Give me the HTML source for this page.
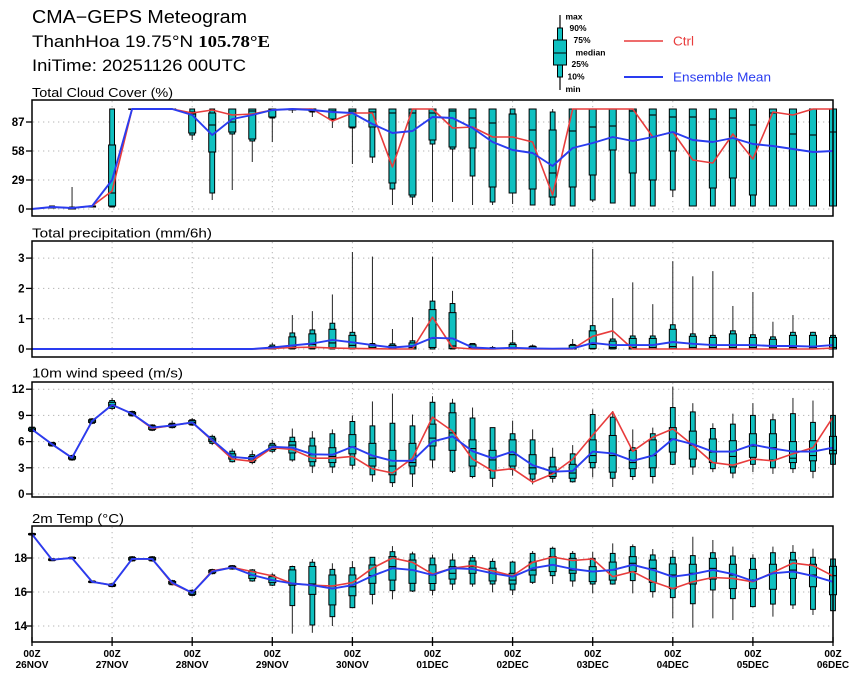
<!DOCTYPE html>
<html><head><meta charset="utf-8">
<style>
html,body{margin:0;padding:0;background:#fff;}
svg{display:block;}
text{font-family:"Liberation Sans",Arial,sans-serif;}
.tk{font-size:11.5px;font-weight:bold;text-anchor:end;fill:#000;}
.pt{font-size:12.5px;fill:#000;}
.xl{font-size:10px;font-weight:bold;text-anchor:middle;fill:#000;}
.lg{font-size:8.5px;font-weight:bold;fill:#000;}
</style></head><body>
<svg id="c" width="860" height="680" viewBox="0 0 860 680" xmlns="http://www.w3.org/2000/svg">
<g id="grid"></g>
<g id="data"></g>
<g id="frames" fill="none" stroke="#000" stroke-width="1.5">
<rect x="32" y="100" width="801" height="116"/>
<rect x="32" y="241" width="801" height="116"/>
<rect x="32" y="382" width="801" height="115"/>
<rect x="32" y="526" width="801" height="116"/>
</g>
<g id="ticks" stroke="#000" stroke-width="1.3"></g>

<!-- Titles -->
<text x="32" y="23" font-size="18" textLength="215" lengthAdjust="spacingAndGlyphs">CMA−GEPS Meteogram</text>
<text x="32" y="47" font-size="16.5" textLength="238" lengthAdjust="spacingAndGlyphs">ThanhHoa 19.75°N <tspan font-family="Liberation Serif" font-weight="bold">105.78°E</tspan></text>
<text x="32" y="71" font-size="16.5" textLength="214" lengthAdjust="spacingAndGlyphs">IniTime: 20251126 00UTC</text>

<!-- Legend -->
<line x1="560" y1="15" x2="560" y2="90" stroke="#000" stroke-width="1.2"/>
<rect x="557.5" y="28" width="5" height="49" fill="#10c0c0" stroke="#000" stroke-width="1"/>
<rect x="553.5" y="40" width="13" height="25" fill="#10c0c0" stroke="#000" stroke-width="1"/>
<line x1="553.5" y1="53" x2="566.5" y2="53" stroke="#000" stroke-width="1"/>
<text class="lg" x="565.5" y="19.5">max</text>
<text class="lg" x="569.5" y="31">90%</text>
<text class="lg" x="573.5" y="43">75%</text>
<text class="lg" x="575.5" y="55.5" textLength="30" lengthAdjust="spacingAndGlyphs">median</text>
<text class="lg" x="571.5" y="67">25%</text>
<text class="lg" x="567.5" y="79.5">10%</text>
<text class="lg" x="565.5" y="92">min</text>
<line x1="624" y1="41" x2="663" y2="41" stroke="#e83c3c" stroke-width="1.5"/>
<text x="673" y="45.5" font-size="12.5" fill="#e83c3c" textLength="21" lengthAdjust="spacingAndGlyphs">Ctrl</text>
<line x1="624" y1="77" x2="663" y2="77" stroke="#2a3cf0" stroke-width="2"/>
<text x="673" y="81.5" font-size="12.5" fill="#2a3cf0" textLength="98" lengthAdjust="spacingAndGlyphs">Ensemble Mean</text>

<!-- Panel titles -->
<text class="pt" x="32" y="97" textLength="141" lengthAdjust="spacingAndGlyphs">Total Cloud Cover (%)</text>
<text class="pt" x="32" y="237.5" textLength="180" lengthAdjust="spacingAndGlyphs">Total precipitation (mm/6h)</text>
<text class="pt" x="32" y="377.5" textLength="151" lengthAdjust="spacingAndGlyphs">10m wind speed (m/s)</text>
<text class="pt" x="32" y="523" textLength="92" lengthAdjust="spacingAndGlyphs">2m Temp (°C)</text>

<!-- Y tick labels -->
<text class="tk" x="24.5" y="126">87</text>
<text class="tk" x="24.5" y="155">58</text>
<text class="tk" x="24.5" y="184">29</text>
<text class="tk" x="24.5" y="213">0</text>

<text class="tk" x="24.5" y="262">3</text>
<text class="tk" x="24.5" y="292.5">2</text>
<text class="tk" x="24.5" y="323">1</text>
<text class="tk" x="24.5" y="353">0</text>

<text class="tk" x="24.5" y="393">12</text>
<text class="tk" x="24.5" y="419.5">9</text>
<text class="tk" x="24.5" y="445.5">6</text>
<text class="tk" x="24.5" y="472">3</text>
<text class="tk" x="24.5" y="498">0</text>

<text class="tk" x="27" y="562">18</text>
<text class="tk" x="27" y="596">16</text>
<text class="tk" x="27" y="630">14</text>

<!-- X labels -->
<text class="xl" x="32" y="657">00Z</text><text class="xl" x="32" y="668">26NOV</text>
<text class="xl" x="112.1" y="657">00Z</text><text class="xl" x="112.1" y="668">27NOV</text>
<text class="xl" x="192.2" y="657">00Z</text><text class="xl" x="192.2" y="668">28NOV</text>
<text class="xl" x="272.3" y="657">00Z</text><text class="xl" x="272.3" y="668">29NOV</text>
<text class="xl" x="352.4" y="657">00Z</text><text class="xl" x="352.4" y="668">30NOV</text>
<text class="xl" x="432.5" y="657">00Z</text><text class="xl" x="432.5" y="668">01DEC</text>
<text class="xl" x="512.6" y="657">00Z</text><text class="xl" x="512.6" y="668">02DEC</text>
<text class="xl" x="592.7" y="657">00Z</text><text class="xl" x="592.7" y="668">03DEC</text>
<text class="xl" x="672.8" y="657">00Z</text><text class="xl" x="672.8" y="668">04DEC</text>
<text class="xl" x="752.9" y="657">00Z</text><text class="xl" x="752.9" y="668">05DEC</text>
<text class="xl" x="833" y="657">00Z</text><text class="xl" x="833" y="668">06DEC</text>
</svg>
<script>
(function(){
const NS="http://www.w3.org/2000/svg";
function el(tag,a,p){const e=document.createElementNS(NS,tag);for(const k in a)e.setAttribute(k,a[k]);p.appendChild(e);return e;}
const G=document.getElementById('grid'),D=document.getElementById('data'),T=document.getElementById('ticks');
const X=i=>32+20.025*i;
const TEAL="#10c0c0";
function s(v,d){return [v-d*1.4,v-d,v-d*0.6,v,v+d*0.6,v+d,v+d*1.4];}

const cloudB=[null,[1,1,1,2,2,3,3],[0,0,0,1,1,2,22],[2,2,2,3,3,3,3],[2,2,3,16,64,100,100],
[100,100,100,100,100,100,100],[100,100,100,100,100,100,100],[100,100,100,100,100,100,100],
[69,74,76,95,97,100,100],[9,16,57,84,96,100,100],[19,75,77,87,100,100,100],[47,68,70,98,100,100,100],
[67,91,92,99,100,100,100],[96,99,99,100,100,100,100],[92,97,98,100,100,100,100],[81,89,90,98,100,100,100],
[45,81,82,98,100,100,100],[46,52,82,97,100,100,100],[4,20,26,96,100,100,100],[4,12,14,96,100,100,100],
[7,65,69,96,100,100,100],[7,60,62,98,100,100,100],[4,33,61,91,100,100,100],[4,7,22,86,100,100,100],
[5,16,16,95,95,100,100],[4,4,20,79,100,100,100],[3,4,12,36,79,97,100],[3,3,22,78,100,100,100],
[7,9,34,82,100,100,100],[6,6,59,83,100,100,100],[3,3,36,98,100,100,100],[3,3,29,94,100,100,100],
[12,19,58,92,100,100,100],[3,3,3,92,100,100,100],[3,3,21,90,100,100,100],[3,3,31,91,100,100,100],
[3,3,14,84,100,100,100],[3,3,3,96,100,100,100],[3,3,3,75,100,100,100],[3,3,3,74,100,100,100],[3,3,3,77,100,100,100]];
const cloudC=[0,2,1,3,18,100,100,100,96,99,94,95,99,100,100,88,96,96,42,100,100,81,82,72,72,67,14,100,100,100,100,72,77,49,46,75,50,97,94,100,100];
const cloudM=[0,2,1,3,29,100,100,100,94,74,90,94,99,100,99,97,96,85,76,78,92,91,81,67,59,56,43,61,66,72,68,72,77,69,67,71,65,63,60,57,58];

const precB=[null,null,null,null,null,null,null,null,null,null,null,null,
[0,0,0,0.02,0.08,0.13,0.2],[0,0,0.02,0.1,0.4,0.53,1.12],[0,0,0.03,0.15,0.5,0.63,1.25],[0,0,0.05,0.2,0.65,0.85,1.8],
[0,0,0.03,0.12,0.45,0.55,3.2],[0,0,0.01,0.05,0.14,0.18,3.05],[0,0,0,0.02,0.12,0.17,0.66],[0,0,0,0.05,0.2,0.27,1.05],
[0,0,0.05,0.35,1.3,1.58,3.05],[0,0,0.02,0.1,1.2,1.5,1.92],[0,0,0,0.03,0.14,0.18,0.18],[0,0,0,0,0.03,0.05,0.1],
[0,0,0,0.02,0.15,0.2,0.63],[0,0,0,0.02,0.08,0.1,0.15],null,[0,0,0,0.02,0.12,0.15,0.33],
[0,0,0.02,0.15,0.6,0.77,3.3],[0,0,0.01,0.05,0.26,0.33,1.68],[0,0,0,0.05,0.35,0.43,2.2],[0,0,0,0.05,0.35,0.43,1.48],
[0,0,0.01,0.08,0.65,0.8,2.9],[0,0,0,0.05,0.42,0.5,2.4],[0,0,0,0.05,0.38,0.45,2.57],[0,0,0,0.05,0.5,0.6,1.42],
[0,0,0,0.05,0.38,0.47,1.88],[0,0,0,0.04,0.32,0.4,0.9],[0,0,0,0.05,0.45,0.55,1.12],[0,0,0,0.05,0.45,0.55,0.57],[0,0,0,0.05,0.38,0.45,0.5]];
const precC=[0,0,0,0,0,0,0,0,0,0,0,0,0.02,0.05,0.06,0.03,0.02,0.01,0,0,1.05,0.05,0,0,0.02,0,0,0,0.42,0.6,0,0,0,0,0,0,0,0,0,0,0.03];
const precM=[0,0,0,0,0,0,0,0,0,0,0,0,0.05,0.12,0.18,0.3,0.22,0.13,0.05,0.1,0.37,0.35,0.05,0.02,0.04,0.02,0.01,0.02,0.2,0.13,0.13,0.13,0.23,0.17,0.13,0.13,0.13,0.1,0.1,0.08,0.13];

const windB=[s(7.4,0.25),s(5.7,0.2),s(4.15,0.25),[8.0,8.1,8.2,8.35,8.5,8.6,8.7],[9.6,9.8,10.0,10.2,10.5,10.7,11.0],
s(9.2,0.25),[7.2,7.3,7.4,7.6,7.8,7.9,8.0],[7.5,7.6,7.7,7.85,8.0,8.1,8.4],[7.8,7.9,8.0,8.2,8.4,8.5,8.7],[5.6,5.8,6.0,6.2,6.4,6.6,6.8],
[3.6,3.7,4.0,4.3,4.6,4.9,5.2],[3.4,3.6,3.8,4.0,4.3,4.5,5.0],[4.7,4.9,5.1,5.3,5.6,5.8,6.2],[3.7,3.9,4.7,5.6,6.0,6.5,7.5],
[2.4,3.2,3.7,4.5,5.5,6.4,7.2],[2.4,3.1,3.6,4.3,5.3,6.9,7.4],[2.8,3.3,4.6,5.4,6.8,8.3,9.0],[1.4,2.2,3.2,4.1,5.8,7.8,10.6],
[0.8,1.3,2.2,3.2,5.0,8.1,11.5],[0.8,2.3,3.2,3.6,5.8,7.8,9.1],[3.0,3.9,5.5,6.4,8.0,10.5,11.2],[2.4,2.6,5.0,7.0,9.3,10.4,10.9],
[1.8,2.0,3.2,5.2,6.2,8.7,9.9],[0.8,1.8,2.7,3.9,5.0,7.6,7.6],[2.1,2.8,3.2,4.5,6.2,6.9,8.4],[1.1,1.7,2.3,3.0,4.5,6.2,7.4],
[1.3,1.8,2.0,2.4,3.1,4.2,5.3],[1.3,1.4,1.8,2.4,3.4,4.6,5.6],[1.9,3.0,3.6,4.4,6.2,9.1,9.7],[0.8,1.8,2.5,4.4,6.7,8.8,9.5],
[1.6,2.0,2.9,3.6,5.0,5.3,7.4],[1.2,2.0,3.0,4.4,6.2,6.9,7.6],[3.3,3.4,4.8,6.3,7.6,9.9,12.3],[2.2,3.1,4.0,5.6,7.2,9.4,10.4],
[2.5,2.9,3.6,4.8,6.3,7.5,8.1],[1.8,2.4,3.1,4.3,6.1,8.0,9.2],[2.5,3.4,4.2,5.5,6.9,9.0,10.4],[2.3,3.0,3.9,5.3,6.9,8.5,9.2],
[2.4,2.9,3.6,4.1,6.0,9.2,11.0],[1.8,2.6,3.8,4.4,6.1,8.2,10.7],[2.5,3.4,4.6,5.0,6.6,9.0,10.0]];
const windC=[7.4,5.7,4.15,8.35,10.2,9.2,7.5,7.85,8.2,6.1,4.0,3.75,5.3,5.1,4.1,4.1,4.3,2.9,2.4,4.1,8.8,7.2,4.0,2.65,2.9,1.35,2.3,4.0,6.75,9.4,4.9,6.5,7.45,5.6,3.6,3.3,4.0,3.8,4.6,5.3,8.8];
const windM=[7.4,5.7,4.15,8.35,10.2,9.2,7.6,7.85,8.2,6.2,4.25,4.05,5.4,5.3,4.55,4.5,5.4,4.4,3.8,3.8,6.0,6.6,4.9,4.1,4.85,3.3,2.55,2.65,4.85,4.65,3.8,4.4,6.3,5.7,4.85,4.85,5.65,5.2,4.85,4.85,5.3];

const tempB=[s(19.4,0.05),s(17.9,0.06),s(18.0,0.05),s(16.6,0.05),s(16.4,0.08),s(17.95,0.12),s(17.95,0.12),s(16.55,0.12),
s(15.95,0.15),s(17.2,0.12),s(17.45,0.1),
[16.6,16.65,16.8,17.0,17.2,17.3,17.35],[16.35,16.4,16.55,16.7,16.9,17.0,17.1],[13.55,15.2,16.4,16.5,17.3,17.5,17.55],
[13.6,14.06,15.86,16.47,17.5,17.75,17.94],[14.0,14.55,15.24,16.35,17.0,17.33,17.69],[15.05,15.08,15.78,16.31,17.0,17.43,17.82],
[15.27,15.86,16.51,16.96,17.59,18.04,18.04],[15.57,16.08,16.7,17.49,18.08,18.37,18.7],[16.0,16.06,16.51,17.29,17.88,18.24,18.37],
[15.8,16.1,16.5,17.0,17.6,18.0,18.2],[16.12,16.47,16.76,17.1,17.49,17.88,18.27],[16.31,16.47,17.1,17.49,17.82,18.02,18.18],
[15.98,16.47,16.65,17.1,17.4,17.8,17.98],[15.82,16.12,16.47,16.7,17.1,17.76,17.84],[16.47,16.57,17.0,17.29,17.76,18.27,18.41],
[16.47,16.96,17.2,17.59,18.08,18.57,18.67],[16.31,16.65,17.1,17.29,17.98,18.27,18.41],[15.92,16.47,16.61,17.2,17.49,17.98,18.37],
[16.43,16.47,16.7,17.29,17.76,18.27,18.86],[15.92,16.67,17.2,17.69,18.08,18.67,18.8],[15.67,16.02,16.57,17.39,17.88,18.18,18.53],
[14.45,15.67,16.2,17.0,17.65,18.04,18.47],[13.9,15.31,16.47,17.1,17.63,18.14,19.25],[14.45,16.12,16.76,17.39,17.98,18.31,19.06],
[14.35,15.61,16.2,17.0,17.63,18.12,18.67],[15.1,15.14,16.2,16.7,17.33,17.98,18.22],[14.55,15.29,16.16,17.1,17.63,18.31,18.67],
[15.0,15.24,16.8,17.29,17.88,18.33,18.76],[14.65,14.98,16.31,17.0,17.63,18.04,18.55],[14.8,14.9,15.84,16.96,17.51,17.94,18.0]];
const tempC=[19.4,17.9,18.0,16.6,16.4,17.95,17.95,16.5,15.95,17.25,17.45,17.2,16.95,16.5,16.4,16.35,16.55,17.4,18.0,17.75,17.05,17.4,17.55,17.25,16.95,17.75,18.05,17.85,17.95,16.9,17.2,16.6,16.2,16.6,16.85,16.8,16.6,17.15,17.7,17.55,16.95];
const tempM=[19.4,17.9,18.0,16.6,16.4,17.95,17.95,16.55,15.95,17.2,17.45,17.0,16.7,16.5,16.4,16.2,16.4,16.95,17.4,17.3,17.0,17.4,17.35,17.1,16.9,17.4,17.6,17.35,17.2,17.3,17.6,17.3,16.9,17.05,17.3,17.05,16.65,17.1,17.2,16.95,16.6];

const panels=[
 {top:100,bot:216,y:v=>209-v,grid:[0,29,58,87],B:cloudB,C:cloudC,M:cloudM},
 {top:241,bot:357,y:v=>349-30.3*v,grid:[0,1,2,3],B:precB,C:precC,M:precM},
 {top:382,bot:497,y:v=>494-8.733*v,grid:[0,3,6,9,12],B:windB,C:windC,M:windM},
 {top:526,bot:642,y:v=>592-17*(v-16),grid:[14,16,18],B:tempB,C:tempC,M:tempM}
];
panels.forEach((p,pi)=>{
 // horizontal grid
 p.grid.forEach(v=>{const yy=p.y(v);
   el('line',{x1:33,y1:yy,x2:832,y2:yy,stroke:'#b4b4b4','stroke-width':1,'stroke-dasharray':'1.3 3.7'},G);
   el('line',{x1:26,y1:yy,x2:32,y2:yy},T);
 });
 for(let d=1;d<10;d++){const xx=32+80.1*d;
   el('line',{x1:xx,y1:p.top+1,x2:xx,y2:p.bot-1,stroke:'#b4b4b4','stroke-width':1,'stroke-dasharray':'1.3 3.7'},G);}
 // boxes
 p.B.forEach((b,i)=>{ if(!b) return; const x=X(i); const yy=b.map(p.y);
   const [mn,p10,p25,md,p75,p90,mx]=yy;
   el('line',{x1:x,y1:mx,x2:x,y2:mn,stroke:'#222','stroke-width':1},D);
   el('rect',{x:x-2.4,y:p90,width:4.8,height:Math.max(0.3,p10-p90),fill:TEAL,stroke:'#000','stroke-width':1},D);
   el('rect',{x:x-3.5,y:p75,width:7,height:Math.max(0.3,p25-p75),fill:TEAL,stroke:'#000','stroke-width':1},D);
   el('line',{x1:x-3.5,y1:md,x2:x+3.5,y2:md,stroke:'#000','stroke-width':1.1},D);
 });
 const path=arr=>arr.map((v,i)=>(i?'L':'M')+X(i).toFixed(1)+','+p.y(v).toFixed(1)).join(' ');
 el('path',{d:path(p.C),fill:'none',stroke:'#e83c3c','stroke-width':1.6,'stroke-linejoin':'round'},D);
 el('path',{d:path(p.M),fill:'none',stroke:'#2a3cf0','stroke-width':1.9,'stroke-linejoin':'round'},D);
});
// bottom day ticks
for(let d=0;d<=10;d++){const xx=32+80.1*d; el('line',{x1:xx,y1:637,x2:xx,y2:646},T);}
})();
</script>
</body></html>
